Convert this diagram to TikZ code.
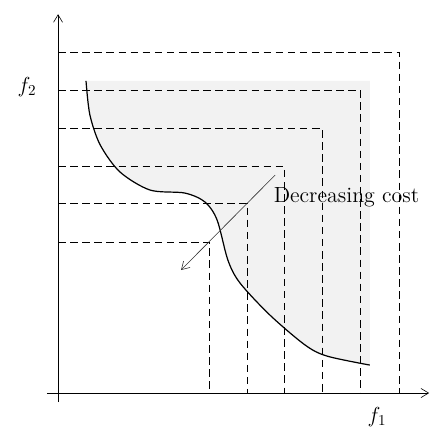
\documentclass[tikz,border=0pt]{standalone}
\usepackage{amsfonts,amssymb,amsmath}
\usepackage{tikz}
\usetikzlibrary{arrows.meta}

\begin{document}
\begin{tikzpicture}[>={Straight Barb[length=5pt,width=6pt]}]
\useasboundingbox(0,0)rectangle(10,10);
\tikzset{cutline/.style={dashed,dash pattern=on 5pt off 3pt,thin},
lbl/.style={font=\Large}}
\fill[black!5](2,8.12)plot[smooth]coordinates{(2,8.12)(2.09,7.33)(2.33,6.63)(2.79,6)(3.49,5.58)(4.3,5.51)(4.77,5.3)(5.05,4.88)(5.3,3.95)(5.58,3.42)(6.28,2.67)(7.09,1.98)(7.6,1.72)(8.6,1.51)}--(8.6,8.12)--cycle;
\foreach \x/\y in {4.86/4.37,5.74/5.28,6.6/6.14,7.49/7.02,8.37/7.91,9.28/8.79}
\draw[cutline](1.35,\y)--(\x,\y)--(\x,0.86);
\draw[thick]plot[smooth]coordinates{(2,8.12)(2.09,7.33)(2.33,6.63)(2.79,6)(3.49,5.58)(4.3,5.51)(4.77,5.3)(5.05,4.88)(5.3,3.95)(5.58,3.42)(6.28,2.67)(7.09,1.98)(7.6,1.72)(8.6,1.51)};
\draw[->](1.35,0.65)--(1.35,9.67);
\draw[->](1.09,0.86)--(9.98,0.86);
\node[lbl](ftwo)at(0.63,7.98){$f_2$};
\node[lbl,inner sep=1pt](fone)at(8.77,0.3){$f_1$};
\node[anchor=west,inner sep=0pt,font=\fontsize{14.5}{17}\selectfont](dcost)at(6.36,5.42){Decreasing cost};
\coordinate(arrs)at(6.4,5.93);
\coordinate(arre)at(4.21,3.72);
\draw[->,black!80](arrs)--(arre);
\end{tikzpicture}
\end{document}
